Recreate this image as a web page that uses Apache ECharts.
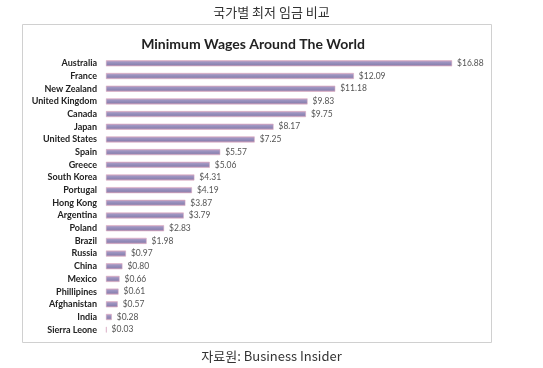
<!DOCTYPE html>
<html><head><meta charset="utf-8">
<script src="https://cdn.jsdelivr.net/npm/echarts@6/dist/echarts.min.js"></script>
<style>html,body{margin:0;padding:0;background:#fff}#c{width:543px;height:368px}</style>
</head><body><div id="c"></div>
<script>
const countries = ["Australia","France","New Zealand","United Kingdom","Canada","Japan","United States","Spain","Greece","South Korea","Portugal","Hong Kong","Argentina","Poland","Brazil","Russia","China","Mexico","Phillipines","Afghanistan","India","Sierra Leone"];
const wages = [16.88,12.09,11.18,9.83,9.75,8.17,7.25,5.57,5.06,4.31,4.19,3.87,3.79,2.83,1.98,0.97,0.80,0.66,0.61,0.57,0.28,0.03];
const pageTitle = "국가별 최저 임금 비교";
const chartTitle = "Minimum Wages Around The World";
const sourceText = "자료원: Business Insider";

const chart = echarts.init(document.getElementById('c'), null, {renderer:'canvas'});
chart.setOption({
  animation:false,
  backgroundColor:'#fff',
  title:[
    {text:pageTitle,left:'center',top:1,textStyle:{fontFamily:'Noto Sans CJK KR',fontWeight:'normal',fontSize:13,color:'#333'}},
    {text:chartTitle,left:248,textAlign:'center',top:32,textStyle:{fontFamily:'Lato',fontWeight:'bold',fontSize:14,color:'#222'}},
    {text:sourceText,left:'center',top:345,textStyle:{fontFamily:'Noto Sans CJK KR',fontWeight:'normal',fontSize:13,color:'#333'}}
  ],
  graphic:[
    {type:'rect',shape:{x:22.5,y:24.5,width:469,height:318},style:{fill:'none',stroke:'#d0d0d0',lineWidth:1},z:-1}
  ],
  grid:{left:106,top:57,width:369,height:279},
  xAxis:{type:'value',min:0,max:18,show:false},
  yAxis:{type:'category',data:countries,inverse:true,
    axisLine:{show:false},axisTick:{show:false},
    axisLabel:{fontFamily:'Lato',fontWeight:'bold',fontSize:9,color:'#222',margin:9}},
  series:[{type:'bar',data:wages,barWidth:6,
    itemStyle:{color:new echarts.graphic.LinearGradient(0,0,0,1,[
      {offset:0,color:'#d6a9c2'},{offset:0.3,color:'#9e95c2'},{offset:0.7,color:'#8c84b2'},{offset:1,color:'#c89cb6'}]),
      borderColor:'#d7a3bd',borderWidth:0.5},
    label:{show:true,position:'right',distance:5,fontFamily:'Lato',fontSize:8.5,color:'#555',
      formatter:p=>'$'+p.value.toFixed(2)}}]
});
</script></body></html>
